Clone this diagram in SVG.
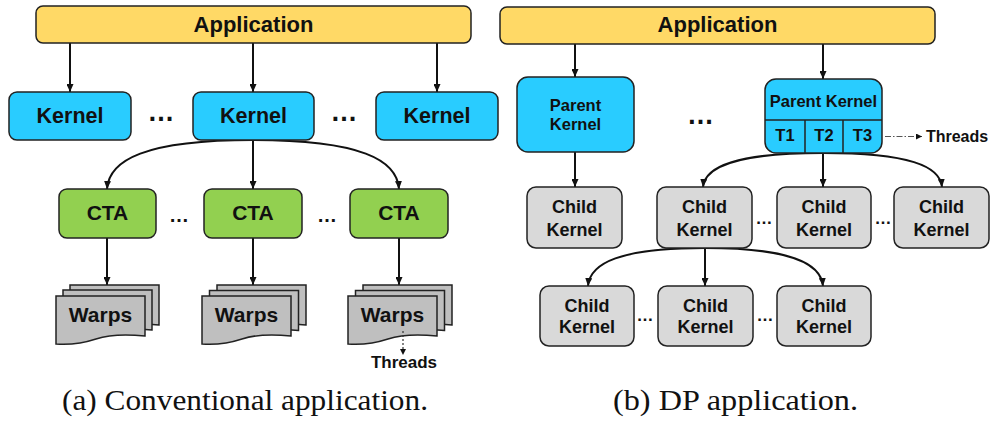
<svg xmlns="http://www.w3.org/2000/svg" width="990" height="421" viewBox="0 0 990 421">
<defs>
<style>
.app{fill:#FFD966;stroke:#222;stroke-width:1.5}
.kern{fill:#29CCFF;stroke:#222;stroke-width:1.5}
.cta{fill:#92D050;stroke:#222;stroke-width:1.5}
.child{fill:#D9D9D9;stroke:#222;stroke-width:1.5}
.warp{fill:#BFBFBF;stroke:#222;stroke-width:1.5}
.t{font-family:"Liberation Sans",Arial,sans-serif;font-weight:bold;fill:#111;text-anchor:middle}
.cap{font-family:"Liberation Serif","Times New Roman",serif;fill:#111;text-anchor:middle;font-size:29px}
.c{fill:none;stroke:#111;stroke-width:2}
.dd{fill:none;stroke:#333;stroke-width:1.2;stroke-dasharray:2 2}
.dda{fill:none;stroke:#555;stroke-width:1.2;stroke-dasharray:6 2 1.5 2}
</style>
<marker id="ah" viewBox="0 0 8 7" refX="8" refY="3.5" markerWidth="8" markerHeight="7" markerUnits="userSpaceOnUse" orient="auto"><path d="M0,0 L8,3.5 L0,7 z" fill="#111"/></marker>
<marker id="ahs" viewBox="0 0 6 6" refX="6" refY="3" markerWidth="6" markerHeight="6" markerUnits="userSpaceOnUse" orient="auto"><path d="M0,0 L6,3 L0,6 z" fill="#111"/></marker>
<path id="doc" d="M0,0 H89 V40 C70,38 55,38 40,43 C28,47 15,49 0,48 Z"/>
</defs>

<!-- connectors -->
<g id="connectors">
<line class="c" x1="70" y1="43" x2="70" y2="92" marker-end="url(#ah)"/>
<line class="c" x1="253" y1="43" x2="253" y2="92" marker-end="url(#ah)"/>
<line class="c" x1="437" y1="43" x2="437" y2="92" marker-end="url(#ah)"/>
<path class="c" d="M253,140 C145,140 109,160 107,189" marker-end="url(#ah)"/>
<line class="c" x1="253" y1="140" x2="253" y2="189" marker-end="url(#ah)"/>
<path class="c" d="M253,140 C361,140 397,160 399,189" marker-end="url(#ah)"/>
<line class="c" x1="107" y1="238" x2="107" y2="285" marker-end="url(#ah)"/>
<line class="c" x1="253" y1="238" x2="253" y2="285" marker-end="url(#ah)"/>
<line class="c" x1="399" y1="238" x2="399" y2="285" marker-end="url(#ah)"/>

<line class="c" x1="575" y1="44" x2="575" y2="77" marker-end="url(#ah)"/>
<line class="c" x1="823" y1="44" x2="823" y2="79" marker-end="url(#ah)"/>
<line class="c" x1="575" y1="152" x2="575" y2="187" marker-end="url(#ah)"/>
<path class="c" d="M823,153 C737,153 705,166 703,187" marker-end="url(#ah)"/>
<line class="c" x1="823" y1="153" x2="823" y2="187" marker-end="url(#ah)"/>
<path class="c" d="M823,153 C909,153 940,166 942,187" marker-end="url(#ah)"/>
<path class="c" d="M705,248 C620,248 590,263 588,286" marker-end="url(#ah)"/>
<line class="c" x1="705" y1="248" x2="705" y2="286" marker-end="url(#ah)"/>
<path class="c" d="M705,248 C790,248 821,263 823,286" marker-end="url(#ah)"/>
</g>

<!-- (a) conventional -->
<g id="app-a"><rect class="app" x="36" y="6" width="435" height="37" rx="7"/><text class="t" x="253.5" y="32" font-size="22">Application</text></g>
<g id="kernel-a1"><rect class="kern" x="9" y="92" width="122" height="48" rx="8"/><text class="t" x="70" y="123" font-size="21.5">Kernel</text></g>
<g id="kernel-a2"><rect class="kern" x="193" y="92" width="121" height="48" rx="8"/><text class="t" x="253.5" y="123" font-size="21.5">Kernel</text></g>
<g id="kernel-a3"><rect class="kern" x="376" y="92" width="122" height="48" rx="8"/><text class="t" x="437" y="123" font-size="21.5">Kernel</text></g>
<g id="dots-a"><text class="t" x="161" y="121" font-size="27">…</text><text class="t" x="344" y="121" font-size="27">…</text>
<text class="t" x="179" y="222" font-size="20">…</text><text class="t" x="327" y="222" font-size="20">…</text></g>
<g id="cta-1"><rect class="cta" x="59" y="189" width="97" height="49" rx="8"/><text class="t" x="107.5" y="220" font-size="21">CTA</text></g>
<g id="cta-2"><rect class="cta" x="204" y="189" width="98" height="49" rx="8"/><text class="t" x="253" y="220" font-size="21">CTA</text></g>
<g id="cta-3"><rect class="cta" x="350" y="189" width="98" height="49" rx="8"/><text class="t" x="399" y="220" font-size="21">CTA</text></g>
<g id="warps-1">
<use href="#doc" class="warp" x="70" y="285"/><use href="#doc" class="warp" x="63" y="290"/><use href="#doc" class="warp" x="56" y="296"/>
<text class="t" x="100.5" y="322" font-size="21">Warps</text></g>
<g id="warps-2">
<use href="#doc" class="warp" x="217" y="285"/><use href="#doc" class="warp" x="209.5" y="290.5"/><use href="#doc" class="warp" x="202" y="296"/>
<text class="t" x="246.5" y="322" font-size="21">Warps</text></g>
<g id="warps-3">
<use href="#doc" class="warp" x="363" y="285"/><use href="#doc" class="warp" x="355.5" y="290.5"/><use href="#doc" class="warp" x="348" y="296"/>
<text class="t" x="392.5" y="322" font-size="21">Warps</text></g>
<g id="threads-a"><line class="dd" x1="403" y1="331" x2="403" y2="355" marker-end="url(#ahs)"/><text class="t" x="404" y="368" font-size="17">Threads</text></g>
<text class="cap" x="245" y="410" textLength="366" lengthAdjust="spacingAndGlyphs">(a) Conventional application.</text>

<!-- (b) DP -->
<g id="app-b"><rect class="app" x="500" y="7" width="435" height="37" rx="7"/><text class="t" x="717.5" y="32" font-size="22">Application</text></g>
<g id="parent-1"><rect class="kern" x="517" y="77" width="117" height="75" rx="11"/><text class="t" x="575.5" y="110.5" font-size="16.5">Parent</text><text class="t" x="575.5" y="130" font-size="16.5">Kernel</text></g>
<g id="dots-b"><text class="t" x="700.5" y="124" font-size="27">…</text></g>
<g id="parent-2"><rect class="kern" x="765" y="79" width="117" height="74" rx="11"/>
<line stroke="#222" stroke-width="1.5" x1="765" y1="120" x2="882" y2="120"/>
<line stroke="#222" stroke-width="1.5" x1="805" y1="120" x2="805" y2="153"/>
<line stroke="#222" stroke-width="1.5" x1="843" y1="120" x2="843" y2="153"/>
<text class="t" x="823.5" y="107" font-size="16.5">Parent Kernel</text>
<text class="t" x="785" y="141" font-size="16.5">T1</text><text class="t" x="824" y="141" font-size="16.5">T2</text><text class="t" x="862.5" y="141" font-size="16.5">T3</text></g>
<g id="threads-b"><line class="dda" x1="885" y1="136.5" x2="922" y2="136.5" marker-end="url(#ahs)"/><text class="t" x="957" y="142" font-size="16">Threads</text></g>
<g id="child-a"><rect class="child" x="527" y="187" width="95" height="61" rx="9"/><text class="t" x="574.5" y="213" font-size="18">Child</text><text class="t" x="574.5" y="235.5" font-size="18">Kernel</text></g>
<g id="child-b"><rect class="child" x="657" y="187" width="95" height="61" rx="9"/><text class="t" x="704.5" y="213" font-size="18">Child</text><text class="t" x="704.5" y="235.5" font-size="18">Kernel</text></g>
<g id="child-c"><rect class="child" x="777" y="187" width="94" height="61" rx="9"/><text class="t" x="824" y="213" font-size="18">Child</text><text class="t" x="824" y="235.5" font-size="18">Kernel</text></g>
<g id="child-d"><rect class="child" x="894" y="187" width="95" height="61" rx="9"/><text class="t" x="941.5" y="213" font-size="18">Child</text><text class="t" x="941.5" y="235.5" font-size="18">Kernel</text></g>
<g id="child-e"><rect class="child" x="540" y="286" width="94" height="60" rx="9"/><text class="t" x="587" y="311.5" font-size="18">Child</text><text class="t" x="587" y="333" font-size="18">Kernel</text></g>
<g id="child-f"><rect class="child" x="658" y="286" width="95" height="60" rx="9"/><text class="t" x="705.5" y="311.5" font-size="18">Child</text><text class="t" x="705.5" y="333" font-size="18">Kernel</text></g>
<g id="child-g"><rect class="child" x="777" y="286" width="94" height="60" rx="9"/><text class="t" x="824" y="311.5" font-size="18">Child</text><text class="t" x="824" y="333" font-size="18">Kernel</text></g>
<g id="dots-c"><text class="t" x="764" y="224" font-size="17">…</text><text class="t" x="883" y="224" font-size="17">…</text>
<text class="t" x="645" y="321" font-size="17">…</text><text class="t" x="765" y="321" font-size="17">…</text></g>
<text class="cap" x="735.5" y="410" textLength="245" lengthAdjust="spacingAndGlyphs">(b) DP application.</text>
</svg>
